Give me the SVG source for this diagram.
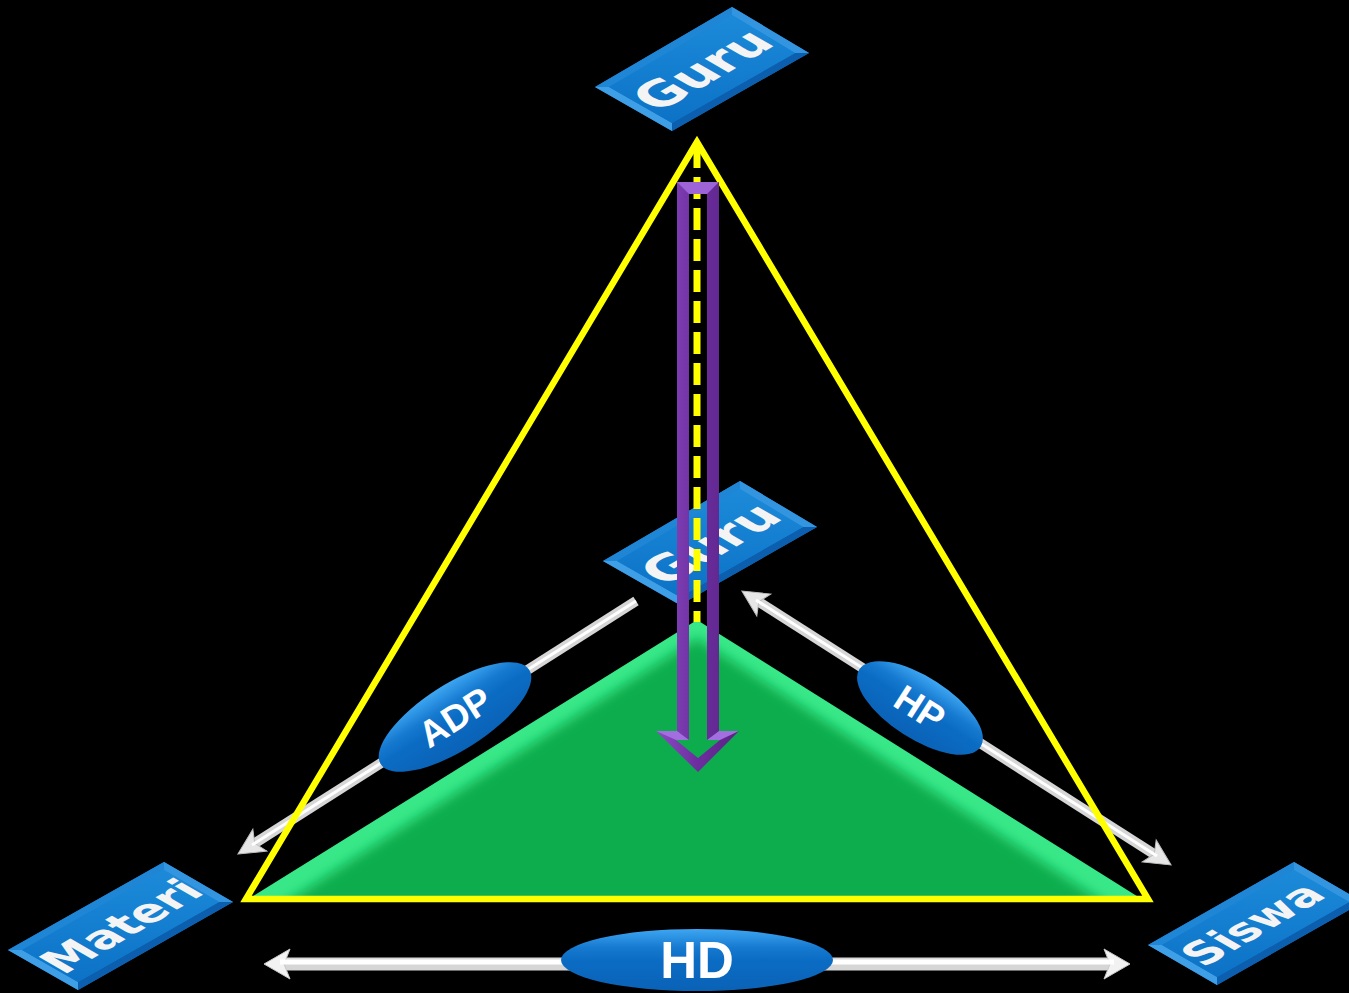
<svg xmlns="http://www.w3.org/2000/svg" width="1349" height="993" viewBox="0 0 1349 993">
<defs>
<style>
.face{fill:url(#boxFace)}
.ftl{fill:#1f86d6}
.ftr{fill:#3395e0}
.fbr{fill:#0b5fae}
.fbl{fill:#3f9fe6}
.boxtxt{font-family:"DejaVu Sans","Liberation Sans",sans-serif;font-weight:bold;fill:#f4f4f4;text-anchor:middle}
.lbl{font-family:"Liberation Sans",Arial,sans-serif;font-weight:bold;fill:#ffffff;text-anchor:middle}
.shaft{stroke:#d6d6d6;fill:none;stroke-linecap:butt}
.shine{stroke:#ffffff;fill:none;stroke-linecap:butt}
.oval{fill:url(#ovalGrad)}
</style>
<linearGradient id="boxFace" x1="0" y1="0" x2="0" y2="1">
<stop offset="0" stop-color="#1c8ad9"/>
<stop offset="1" stop-color="#0c72c6"/>
</linearGradient>
<linearGradient id="ovalGrad" x1="0" y1="0" x2="0" y2="1">
<stop offset="0" stop-color="#3ea6f2"/>
<stop offset="0.3" stop-color="#167ad0"/>
<stop offset="0.5" stop-color="#0b6cc4"/>
<stop offset="1" stop-color="#0a62b6"/>
</linearGradient>
<linearGradient id="purpleGrad" x1="0" y1="0" x2="1" y2="0">
<stop offset="0" stop-color="#8a4cc4"/>
<stop offset="0.5" stop-color="#6c2e9e"/>
<stop offset="1" stop-color="#5a2386"/>
</linearGradient>
<filter id="soft" x="-10%" y="-10%" width="120%" height="120%">
<feGaussianBlur stdDeviation="6"/>
</filter>
<clipPath id="greenClip">
<polygon points="697,620 250,898 1140,898"/>
</clipPath>
<marker id="ah" viewBox="-30 -16 44 32" refX="0" refY="0" markerWidth="44" markerHeight="32" markerUnits="userSpaceOnUse" orient="auto-start-reverse">
<path d="M12,0 L-14,-13 L-8,0 L-14,13 Z" fill="#e6e6e6" stroke="#bdbdbd" stroke-width="1"/>
</marker>
<marker id="ahB" viewBox="-30 -18 44 36" refX="0" refY="0" markerWidth="44" markerHeight="36" markerUnits="userSpaceOnUse" orient="auto-start-reverse">
<path d="M12,0 L-14,-15 L-8,0 L-14,15 Z" fill="#f2f2f2" stroke="#c8c8c8" stroke-width="1"/>
</marker>
</defs>
<rect x="0" y="0" width="1349" height="993" fill="#000000"/>

<g id="guru-middle">
<polygon class="face" points="603,561 740,481 817,527 680,605"/>
<polygon class="ftl" points="603,561 740,481 740,489 617,561"/>
<polygon class="ftr" points="740,481 817,527 803,527 740,489"/>
<polygon class="fbr" points="817,527 680,605 680,597 803,527"/>
<polygon class="fbl" points="680,605 603,561 617,561 680,597"/>
<polygon class="face" points="617,561 740,489 803,527 680,597"/>
<text class="boxtxt" font-size="50" transform="matrix(0.866,-0.5,0.866,0.5,710,543.5)" x="0" y="18">Guru</text>
</g>

<g id="connectors">
<line class="shaft" x1="636" y1="601" x2="248" y2="847.6" stroke-width="10" marker-end="url(#ah)"/>
<line class="shine" x1="636" y1="601" x2="252" y2="845" stroke-width="3"/>
<line class="shaft" x1="752" y1="597.5" x2="1161" y2="858.5" stroke-width="10" marker-start="url(#ah)" marker-end="url(#ah)"/>
<line class="shine" x1="756" y1="600" x2="1157" y2="856" stroke-width="3"/>
<line class="shaft" x1="276" y1="964" x2="1118" y2="964" stroke-width="13" marker-start="url(#ahB)" marker-end="url(#ahB)"/>
<line class="shine" x1="280" y1="962" x2="1114" y2="962" stroke-width="5"/>
</g>

<g id="label-adp" transform="translate(455,717) rotate(-32.5)">
<ellipse class="oval" cx="0" cy="0" rx="88" ry="33"/>
<text class="lbl" font-size="37" x="0" y="13">ADP</text>
</g>
<g id="label-hp" transform="translate(920,708) rotate(32.6)">
<ellipse class="oval" cx="0" cy="0" rx="72" ry="31"/>
<text class="lbl" font-size="37" x="0" y="13">HP</text>
</g>
<g id="label-hd">
<ellipse class="oval" cx="697" cy="960" rx="136" ry="31"/>
<text class="lbl" font-size="51" x="697" y="978">HD</text>
</g>

<g id="green-triangle">
<polygon points="697,620 250,898 1140,898" fill="#38e888"/>
<g clip-path="url(#greenClip)">
<polygon points="697,638 280,906 1110,906" fill="#0aad4e" filter="url(#soft)"/>
</g>
</g>

<g id="yellow-triangle">
<polygon points="697,142 246,899 1148,899" fill="none" stroke="#ffff00" stroke-width="6.5" stroke-linejoin="miter"/>
<line x1="697" y1="146" x2="697" y2="622" stroke="#ffff00" stroke-width="7" stroke-dasharray="22 9"/>
</g>

<g id="purple-arrow">
<path d="M677,182 L719,182 L719,731 L739,731 L698,772 L656,731 L677,731 Z M689,194 L689,740 L676,740 L698,758 L720,740 L707,740 L707,194 Z" fill="url(#purpleGrad)" fill-rule="evenodd"/>
<path d="M677,182 L719,182 L707,194 L689,194 Z" fill="#9d64d8"/>
<path d="M656,731 L677,731 L689,740 L676,740 Z M719,731 L739,731 L720,740 L707,740 Z" fill="#a36ee0"/>
</g>

<g id="guru-top">
<polygon class="face" points="595,87 732,7 809,53 672,131"/>
<polygon class="ftl" points="595,87 732,7 732,15 609,87"/>
<polygon class="ftr" points="732,7 809,53 795,53 732,15"/>
<polygon class="fbr" points="809,53 672,131 672,123 795,53"/>
<polygon class="fbl" points="672,131 595,87 609,87 672,123"/>
<polygon class="face" points="609,87 732,15 795,53 672,123"/>
<text class="boxtxt" font-size="50" transform="matrix(0.866,-0.5,0.866,0.5,702,69.5)" x="0" y="18">Guru</text>
</g>

<g id="materi">
<polygon class="face" points="8,950 164,862 233,902 78,990"/>
<polygon class="ftl" points="8,950 164,862 164,870 22,950"/>
<polygon class="ftr" points="164,862 233,902 219,902 164,870"/>
<polygon class="fbr" points="233,902 78,990 78,982 219,902"/>
<polygon class="fbl" points="78,990 8,950 22,950 78,982"/>
<polygon class="face" points="22,950 164,870 219,902 78,982"/>
<text class="boxtxt" font-size="45" transform="matrix(0.866,-0.5,0.866,0.5,121,926)" x="0" y="16">Materi</text>
</g>

<g id="siswa">
<polygon class="face" points="1148,945 1294,862 1363,902 1217,985"/>
<polygon class="ftl" points="1148,945 1294,862 1294,870 1162,945"/>
<polygon class="ftr" points="1294,862 1363,902 1349,902 1294,870"/>
<polygon class="fbr" points="1363,902 1217,985 1217,977 1349,902"/>
<polygon class="fbl" points="1217,985 1148,945 1162,945 1217,977"/>
<polygon class="face" points="1162,945 1294,870 1349,902 1217,977"/>
<text class="boxtxt" font-size="44" transform="matrix(0.866,-0.5,0.866,0.5,1252,924)" x="0" y="16">Siswa</text>
</g>
</svg>
